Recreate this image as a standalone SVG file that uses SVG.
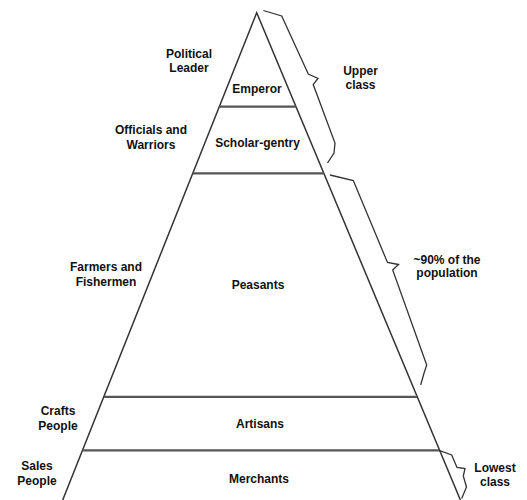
<svg xmlns="http://www.w3.org/2000/svg" width="527" height="500" viewBox="0 0 527 500">
<style>
text{font-family:"Liberation Sans",Arial,sans-serif;font-size:12px;font-weight:bold;fill:#111;text-anchor:middle}
.edge{fill:none;stroke:#333;stroke-width:1.5}
.tier{fill:none;stroke:#555;stroke-width:2.2}
.brace{fill:none;stroke:#333;stroke-width:1.3;stroke-linejoin:miter}
</style>
<rect width="527" height="500" fill="#fff"/>
<g id="pyramid">
<path class="edge" d="M62.7,500 L256.7,12.7 L460.4,500"/>
</g>
<g id="connectors">
<line class="tier" x1="219.3" y1="106.7" x2="296" y2="106.7"/>
<line class="tier" x1="193" y1="173.3" x2="324" y2="173.3"/>
<line class="tier" x1="104" y1="396.8" x2="417" y2="396.8"/>
<line class="tier" x1="82.5" y1="450.3" x2="439.5" y2="450.3"/>
<path class="brace" d="M263.3,10.5 L281.7,16 L308.3,74 L318,78.5 L313.2,84.5 L335,143 L334,153 L327.5,163"/>
<path class="brace" d="M330,175 L353.3,180.5 L387.5,262.5 L398.5,264.5 L392.7,270 L426.7,365 L424,373.3 L420.7,385"/>
<path class="brace" d="M439,450.3 L451.7,455 L457,467.5 L465,468.5 L463.3,476 L466.5,487 L461.7,498.5"/>
</g>
<g id="emperor"><text x="257" y="92.5">Emperor</text></g>
<g id="scholar-gentry"><text x="257.5" y="146.5">Scholar-gentry</text></g>
<g id="peasants"><text x="258" y="289">Peasants</text></g>
<g id="artisans"><text x="260" y="428">Artisans</text></g>
<g id="merchants"><text x="259" y="483">Merchants</text></g>
<g id="label-political"><text x="189" y="58">Political</text><text x="189" y="72">Leader</text></g>
<g id="label-officials"><text x="151" y="134">Officials and</text><text x="151" y="149">Warriors</text></g>
<g id="label-farmers"><text x="106" y="271">Farmers and</text><text x="106" y="286">Fishermen</text></g>
<g id="label-crafts"><text x="58" y="415">Crafts</text><text x="58" y="429.5">People</text></g>
<g id="label-sales"><text x="37" y="470">Sales</text><text x="37" y="484.5">People</text></g>
<g id="label-upper"><text x="360.5" y="75">Upper</text><text x="360.5" y="88.5">class</text></g>
<g id="label-90"><text x="447" y="263.5">~90% of the</text><text x="447" y="277">population</text></g>
<g id="label-lowest"><text x="495" y="472">Lowest</text><text x="495" y="486">class</text></g>
</svg>
